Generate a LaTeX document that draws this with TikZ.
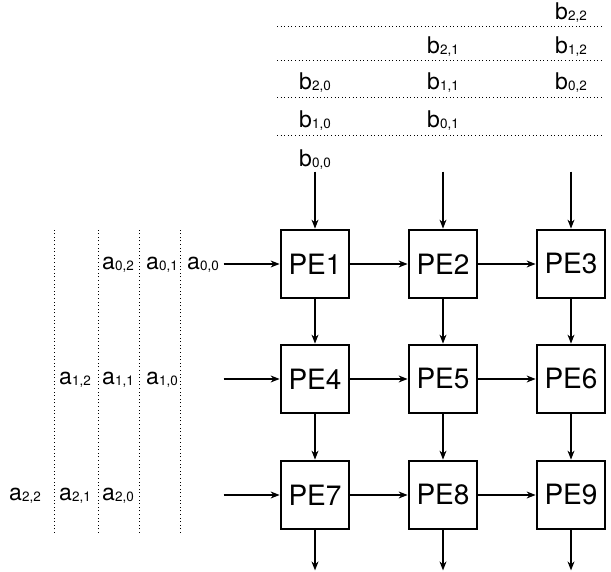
\documentclass[tikz,border=0pt]{standalone}
\usepackage{fontspec}
\setmainfont{TeX Gyre Heros}
\usetikzlibrary{arrows.meta}

% small index set next to a letter
\newcommand{\ix}[1]{\raisebox{-1pt}{\fontsize{13.5}{13.5}\selectfont #1}}

\begin{document}
\begin{tikzpicture}[x=1pt, y=1pt,
    pe/.style={draw, line width=2.8pt, minimum size=68pt, inner sep=0pt,
      font=\fontsize{28}{28}\selectfont},
    flow/.style={-{Stealth[length=9pt,width=7pt]}, line width=1.1pt},
    elem/.style={anchor=base, inner sep=0pt, font=\fontsize{23}{23}\selectfont},
    sep/.style={line width=1pt, dash pattern=on 1pt off 2.6pt}]
        \useasboundingbox (0,0) rectangle (611,572);

        % Processing elements
        \foreach \r/\y in {0/308,1/193,2/77}
          \foreach \c/\x in {0/315,1/443,2/571} {
            \pgfmathtruncatemacro\n{3*\r+\c+1}
            \node[pe] (pe\n) at (\x,\y) {PE\n};
          }

        % Links between neighbours
        \foreach \a/\b in {1/2,2/3,4/5,5/6,7/8,8/9,1/4,4/7,2/5,5/8,3/6,6/9}
          \draw[flow] (pe\a) -- (pe\b);

        % Inputs from the top, outputs at the bottom
        \foreach \c/\d in {1/7,2/8,3/9} {
          \path (pe\c.north) ++(0,57) coordinate (bin\c);
          \path (pe\d.south) ++(0,-40) coordinate (bout\c);
          \draw[flow] (bin\c) -- (pe\c);
          \draw[flow] (pe\d) -- (bout\c);
        }

        % Inputs from the left
        \foreach \r in {1,4,7} {
          \path (pe\r.west) ++(-56,0) coordinate (ain\r);
          \draw[flow] (ain\r) -- (pe\r);
        }

        % Skewed rows of a
        \foreach \i/\y in {0/302,1/187,2/71}
          \foreach \j in {0,1,2} {
            \pgfmathtruncatemacro\k{\i+\j}
            \pgfmathsetmacro\x{{203,162,118,75,25}[\k]}
            \node[elem] (a\i\j) at (\x,\y) {a\ix{\i,\j}};
          }

        % Skewed columns of b
        \foreach \j/\x in {0/315,1/443,2/571}
          \foreach \i in {0,1,2} {
            \pgfmathtruncatemacro\k{\i+\j}
            \pgfmathsetmacro\y{{405,444,482,518,552}[\k]}
            \node[elem] (b\i\j) at (\x,\y) {b\ix{\i,\j}};
          }

        % Dotted separators
        \foreach \x in {54,98,139,180}
          \draw[sep] (\x,39) -- (\x,344);
        \foreach \y in {436,474,511,545}
          \draw[sep] (277,\y) -- (603,\y);
      \end{tikzpicture}
\end{document}
